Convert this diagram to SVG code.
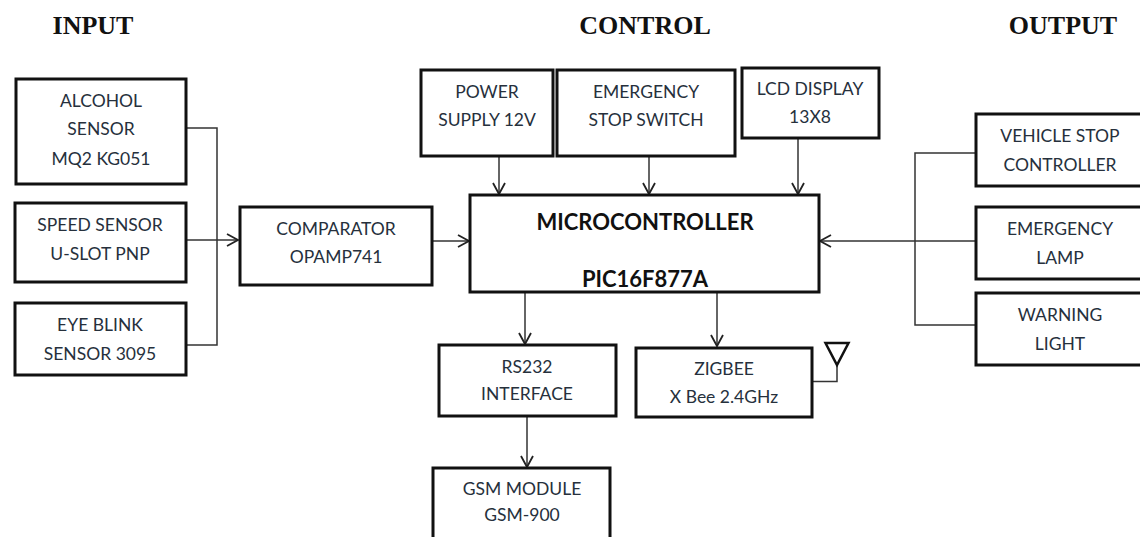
<svg xmlns="http://www.w3.org/2000/svg" width="1140" height="537" viewBox="0 0 1140 537">
<style>
.b{fill:#fff;stroke:#111;stroke-width:3}
.c{fill:none;stroke:#333;stroke-width:1.5}
.t{font-family:Lato,"Liberation Sans",sans-serif;font-size:17.5px;fill:#26303c;text-anchor:middle}
.m{font-family:Lato,"Liberation Sans",sans-serif;font-size:22px;font-weight:700;fill:#111;text-anchor:middle}
.h{font-family:"Liberation Serif",serif;font-size:26px;font-weight:700;fill:#111;text-anchor:middle}
</style>
<defs><marker id="a" markerWidth="14" markerHeight="14" refX="12" refY="7" orient="auto" markerUnits="userSpaceOnUse"><path d="M1 1L12 7L1 13" fill="none" stroke="#222" stroke-width="1.8"/></marker></defs>
<rect width="1140" height="537" fill="#fff"/>
<text class="h" x="93" y="34">INPUT</text><text class="h" x="645" y="34">CONTROL</text><text class="h" x="1063" y="34">OUTPUT</text>
<g id="connectors" class="c">
<path d="M187 128H217V345H187"/><path d="M187 240H238" marker-end="url(#a)"/>
<path d="M432 241H469" marker-end="url(#a)"/>
<path d="M499 157V194" marker-end="url(#a)"/><path d="M649 157V194" marker-end="url(#a)"/><path d="M798 139V194" marker-end="url(#a)"/>
<path d="M975 153H915V325H975"/><path d="M975 241H820" marker-end="url(#a)"/>
<path d="M525 293V344" marker-end="url(#a)"/><path d="M717 293V346" marker-end="url(#a)"/><path d="M527 417V467" marker-end="url(#a)"/>
<path d="M813 381.500H837V365"/>
<path d="M825.500 343H848.500L837 365Z" stroke="#111" stroke-width="2.500"/>
</g>
<g id="alcohol"><rect class="b" x="16" y="79" width="170" height="105"/><text class="t" x="101" y="107">ALCOHOL</text><text class="t" x="101" y="135">SENSOR</text><text class="t" x="101" y="165">MQ2 KG051</text></g>
<g id="speed"><rect class="b" x="15" y="203" width="171" height="79"/><text class="t" x="100" y="231">SPEED SENSOR</text><text class="t" x="100" y="260">U-SLOT PNP</text></g>
<g id="eye"><rect class="b" x="15" y="303" width="171" height="72"/><text class="t" x="100" y="331">EYE BLINK</text><text class="t" x="100" y="360">SENSOR 3095</text></g>
<g id="comparator"><rect class="b" x="240" y="207" width="192" height="78"/><text class="t" x="336" y="235">COMPARATOR</text><text class="t" x="336" y="263">OPAMP741</text></g>
<g id="power"><rect class="b" x="421" y="70" width="132" height="86"/><text class="t" x="487" y="98">POWER</text><text class="t" x="487" y="126">SUPPLY 12V</text></g>
<g id="estop"><rect class="b" x="557" y="70" width="178" height="86"/><text class="t" x="646" y="98">EMERGENCY</text><text class="t" x="646" y="126">STOP SWITCH</text></g>
<g id="lcd"><rect class="b" x="742" y="68" width="137" height="70"/><text class="t" x="810" y="95">LCD DISPLAY</text><text class="t" x="810" y="123">13X8</text></g>
<g id="mcu"><rect class="b" x="470" y="195" width="349" height="97"/><text class="m" x="645" y="230">MICROCONTROLLER</text><text class="m" x="645" y="287">PIC16F877A</text></g>
<g id="stopctl"><rect class="b" x="976" y="114" width="170" height="72"/><text class="t" x="1060" y="142">VEHICLE STOP</text><text class="t" x="1060" y="171">CONTROLLER</text></g>
<g id="lamp"><rect class="b" x="976" y="207" width="170" height="72"/><text class="t" x="1060" y="235">EMERGENCY</text><text class="t" x="1060" y="264">LAMP</text></g>
<g id="warn"><rect class="b" x="976" y="293" width="170" height="72"/><text class="t" x="1060" y="321">WARNING</text><text class="t" x="1060" y="350">LIGHT</text></g>
<g id="rs232"><rect class="b" x="439" y="345" width="177" height="71"/><text class="t" x="527" y="373">RS232</text><text class="t" x="527" y="400">INTERFACE</text></g>
<g id="zigbee"><rect class="b" x="636" y="348" width="176" height="69"/><text class="t" x="724" y="375">ZIGBEE</text><text class="t" x="724" y="403">X Bee 2.4GHz</text></g>
<g id="gsm"><rect class="b" x="433" y="468" width="177" height="80"/><text class="t" x="522" y="495">GSM MODULE</text><text class="t" x="522" y="521">GSM-900</text></g>
</svg>
